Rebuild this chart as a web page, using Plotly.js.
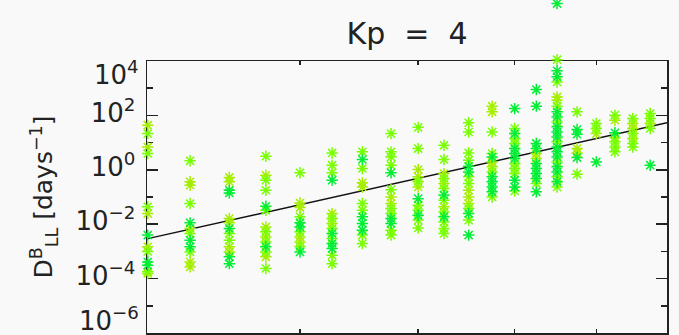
<!DOCTYPE html>
<html>
<head>
<meta charset="utf-8">
<script src="https://cdn.plot.ly/plotly-3.0.1.min.js"></script>
<style>html,body{margin:0;padding:0;background:#f9f9f9;}#chart{width:679px;height:335px;}</style>
</head>
<body>
<div id="chart"></div>
<script>
// L-shell columns
const columnL = [3, 3.25, 3.5, 3.75, 4, 4.25, 4.5, 4.75, 5, 5.25, 5.5, 5.75, 6, 6.25, 6.5, 6.75, 7, 7.25, 7.5, 7.75];

// log10(D_LL^B) values, per column, by marker colour
const yellowLogD = [
  [1.64, 0.84, -1.61, -2.83, -3.81],
  [-0.44, -0.57, -2.16, -3.39, -3.57],
  [-0.28, -0.44, -1.79, -1.95, -2.83, -3.02],
  [-0.20, -2.10, -2.47, -3.2],
  [-1.22, -1.39, -2.47, -2.65],
  [-1.61, -1.97],
  [-0.48, -0.63],
  [-1.0, -1.24],
  [0.01, -0.26, -0.63],
  [-0.14, -0.50, -1.36],
  [-0.75, -1.0, -1.24],
  [2.34, 2.13, 0.29, 0.11],
  [],
  [0.60, 0.42],
  [2.68, 2.56],
  [0.78, 0.62],
  [1.33],
  [1.82, 1.19],
  [1.70, 1.52, 1.15],
  [1.70]
];
const limeLogD = [
  [1.33, 0.60, -1.36, -3.0, -3.75],
  [0.33, -1.24, -2.34, -3.02],
  [-2.34, -2.59],
  [0.50, -0.38, -0.75, -1.49, -2.28, -2.65, -3.02, -3.63],
  [-0.11, -1.73, -2.28, -2.83],
  [0.62, 0.17, -0.11, -1.79, -2.16, -2.53, -3.14, -3.45],
  [0.66, 0.05, -1.24, -1.49, -2.40, -2.71],
  [1.33, 0.66, 0.47, 0.17, -0.73, -1.42, -1.61, -2.22, -2.40],
  [1.56, 0.78, -0.44, -1.30, -1.49, -1.85, -2.14],
  [0.90, 0.38, -0.32, -0.69, -1.12, -1.55, -1.92, -2.16, -2.34],
  [1.73, 1.39, 0.62, 0.35, -0.26, -0.50, -1.42, -1.85],
  [1.39, 0.60, -0.08, -1.0],
  [1.52, 1.15, 0.97, 0.23, 0.05, -0.14, -0.78],
  [-0.50],
  [4.05, 3.23, 2.34, 1.76, 1.03, 0.29, -0.26, -0.63],
  [2.13, -0.16],
  [1.70, 1.52],
  [2.01, 1.03, 0.84, 0.66],
  [1.89, 1.33, 0.97, 0.84],
  [2.07, 1.89, 1.52]
];
const greenLogD = [
  [-2.40, -3.39, -3.51],
  [-1.95, -2.59, -2.83],
  [-0.75, -0.85, -2.16, -3.2, -3.45],
  [-1.34, -2.83],
  [-1.95, -2.10, -3.02],
  [-0.38, -2.34, -2.71, -2.89],
  [0.38, -1.73, -1.97, -2.22],
  [-0.11, -1.79, -1.97],
  [-1.06, -1.67],
  [-0.93, -1.73],
  [0.13, -0.08, -1.61, -2.40],
  [0.47, -0.26, -0.44, -0.63, -0.81],
  [2.25, 1.33, 0.78, 0.60, 0.42, -0.38, -0.63],
  [2.95, 2.34, 0.97, 0.78, 0.23, 0.05, -0.14, -0.32, -0.81],
  [6.11, 3.64, 3.42, 2.13, 1.94, 1.58, 1.39, 1.21, 0.84, 0.66, 0.47, 0.11, -0.08, -0.44],
  [1.48, 1.31, 0.45],
  [0.29],
  [1.36],
  [],
  [0.17]
];

// power-law fit line end points
const fitL = [3, 8];
const fitD = [2.95e-3, 53.7];

const yTickVals = [1e-6, 1e-4, 1e-2, 1, 1e2, 1e4];
const yTickText = ['', '10<sup>−4</sup>', '10<sup>−2</sup>', '10<sup>0</sup>', '10<sup>2</sup>', ''];
const yEdgeLabels = ['10<sup>−6</sup>', '10<sup>4</sup>'];
const yMinorVals = [1e-5, 1e-3, 1e-1, 10, 1e3];
const xTickVals = [4, 5, 6, 7];

function series(perColumn, color) {
  const x = [], y = [];
  perColumn.forEach((vals, i) => vals.forEach(v => { x.push(columnL[i]); y.push(Math.pow(10, v)); }));
  return {
    x: x, y: y, xaxis: 'x', yaxis: 'y2', type: 'scatter', mode: 'markers', cliponaxis: false, showlegend: false,
    marker: {symbol: 'asterisk-open', size: 9.5, color: color, line: {color: color, width: 1.5}}
  };
}

const traces = [
  series(yellowLogD, '#a6ee00'),
  series(limeLogD, '#77ff00'),
  series(greenLogD, '#00ee33'),
  {x: fitL, y: fitD, xaxis: 'x', yaxis: 'y', type: 'scatter', mode: 'lines', showlegend: false,
   line: {color: '#111111', width: 1.5}}
];

const fontFam = 'DejaVu Sans, sans-serif';
const txt = '#222222';
const plotH = 333, frameH = 272, decades = 10;
const layout = {
  width: 679, height: 335,
  paper_bgcolor: '#f9f9f9', plot_bgcolor: 'rgba(0,0,0,0)',
  margin: {l: 147, r: 12, t: 0, b: 2},
  font: {family: fontFam, color: txt, size: 26},
  title: {text: 'Kp  =  4', x: 0.5, xref: 'paper', xanchor: 'center', y: 0.9, yref: 'container', yanchor: 'middle',
          font: {family: fontFam, size: 30, color: txt}},
  xaxis: {type: 'log', range: [Math.log10(3) - 0.0006, Math.log10(8)], anchor: 'y', tickvals: xTickVals, showticklabels: false,
          ticks: 'inside', ticklen: 4, tickwidth: 1.5, tickcolor: txt,
          showline: true, linecolor: txt, linewidth: 1.5, mirror: 'allticks', showgrid: false, zeroline: false},
  yaxis: {type: 'log', range: [-6, 4], domain: [0, frameH / plotH], anchor: 'x', tickvals: yTickVals, ticktext: yTickText,
          ticks: 'inside', ticklen: 11, tickwidth: 1.5, tickcolor: txt, ticklabelstandoff: 5, ticklabelshift: -3,
          minor: {tickvals: yMinorVals, ticks: 'inside', ticklen: 6, tickwidth: 1.5, tickcolor: txt, showgrid: false},
          showline: true, linecolor: txt, linewidth: 1.5, mirror: 'allticks', showgrid: false, zeroline: false,
          tickfont: {family: fontFam, size: 26, color: txt},
          title: {text: 'D<sup>B</sup><sub>LL</sub> [days<sup>−1</sup>]', standoff: 15,
                  font: {family: fontFam, size: 25, color: txt}}},
  yaxis2: {type: 'log', range: [-6, -6 + decades * plotH / frameH], domain: [0, 1], anchor: 'x', visible: false,
           showgrid: false, zeroline: false},
  annotations: [
    {text: yEdgeLabels[0], xref: 'paper', x: 0, xanchor: 'right', xshift: -6, yref: 'y', y: -6, yanchor: 'middle', yshift: 14,
     showarrow: false, font: {family: fontFam, size: 26, color: txt}},
    {text: yEdgeLabels[1], xref: 'paper', x: 0, xanchor: 'right', xshift: -6, yref: 'y', y: 4, yanchor: 'middle', yshift: -12,
     showarrow: false, font: {family: fontFam, size: 26, color: txt}}
  ]
};

Plotly.newPlot('chart', traces, layout, {displayModeBar: false, staticPlot: true});
</script>
</body>
</html>
